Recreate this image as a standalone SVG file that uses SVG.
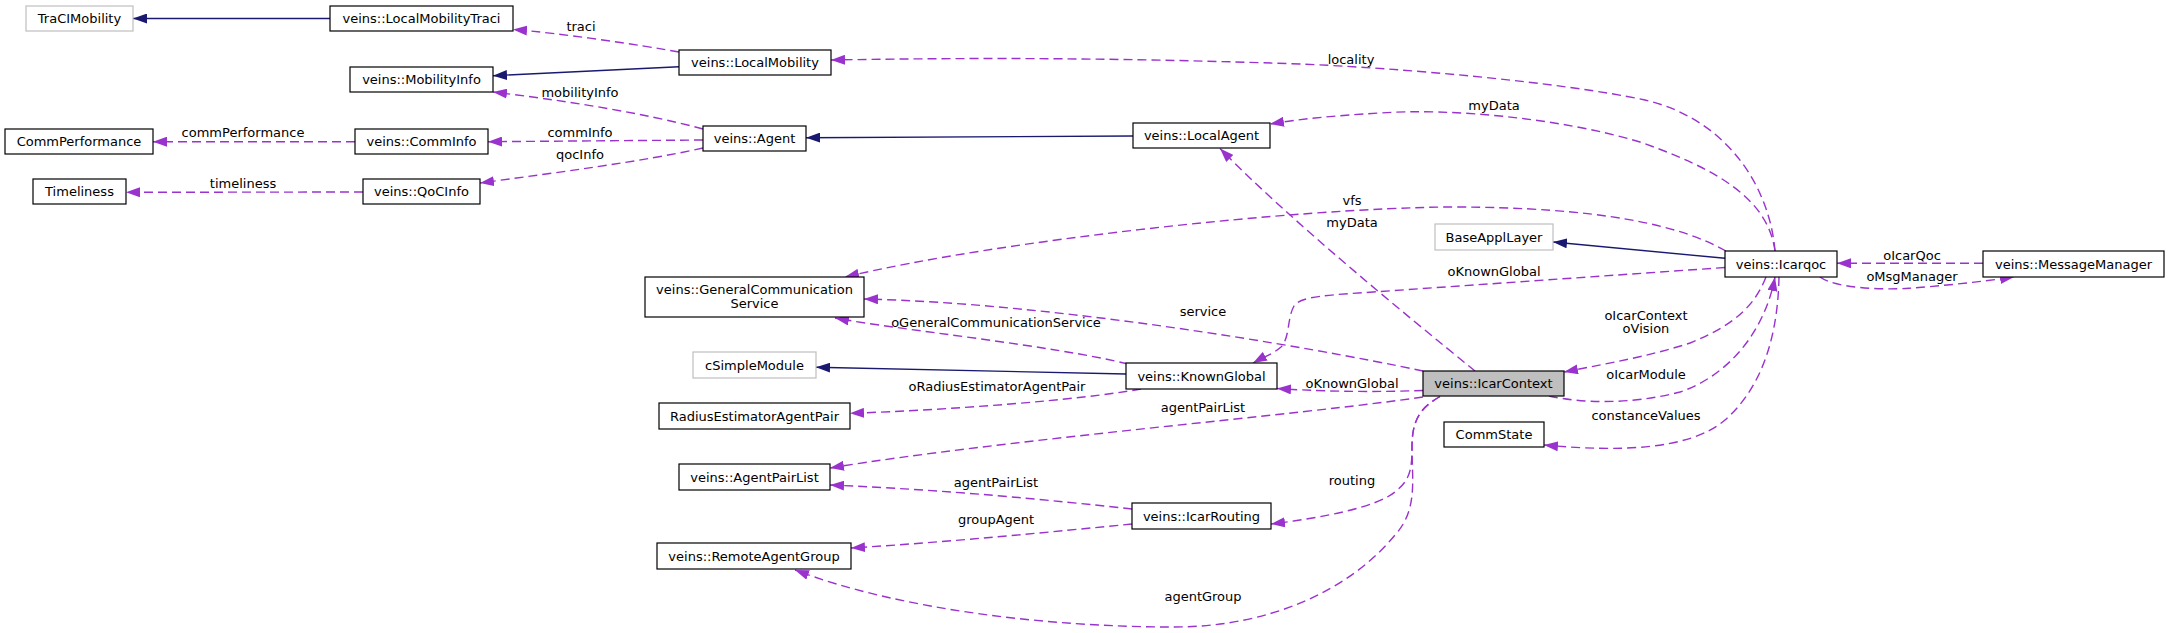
<svg xmlns="http://www.w3.org/2000/svg" width="2168" height="633" viewBox="0 0 2168 633">
<style>
text{font-family:"DejaVu Sans","Liberation Sans",sans-serif;font-size:13px;fill:#000}
.n text{text-anchor:middle}
.n rect{fill:#fff;stroke:#000;stroke-width:1.2}
.n rect.u{stroke:#bfbfbf}
.n rect.h{fill:#bfbfbf}
.e path{fill:none;stroke-width:1.4}
.e path.d{stroke:#9a32cd;stroke-dasharray:9,5;marker-end:url(#ap)}
.e path.s{stroke:#191970;marker-end:url(#an)}
.e text{text-anchor:middle}
</style>
<defs>
<marker id="ap" viewBox="0 0 14 10" refX="14" refY="5" markerWidth="14" markerHeight="10" markerUnits="userSpaceOnUse" orient="auto"><path d="M0,0 L14,5 L0,10 z" fill="#9a32cd"/></marker>
<marker id="an" viewBox="0 0 14 10" refX="14" refY="5" markerWidth="14" markerHeight="10" markerUnits="userSpaceOnUse" orient="auto"><path d="M0,0 L14,5 L0,10 z" fill="#191970"/></marker>
</defs>
<g id="connectors" class="e">
<path class="s" d="M330,18.5 L133,18.5"/>
<path class="s" d="M679,66.7 L493,75.7"/>
<path class="d" d="M679,52 C640,45 560,33 513,29.5"/>
<text x="581" y="31">traci</text>
<path class="d" d="M703,129 C640,112 560,100 493,92"/>
<text x="580" y="97">mobilityInfo</text>
<path class="d" d="M703,140 L488,141.7"/>
<text x="580" y="137">commInfo</text>
<path class="d" d="M703,148 C640,162 560,172 480,183"/>
<text x="580" y="159">qocInfo</text>
<path class="d" d="M355,141.7 L153,141.7"/>
<text x="243" y="137">commPerformance</text>
<path class="d" d="M363,192 L126,192.3"/>
<text x="243" y="188">timeliness</text>
<path class="s" d="M1133,136 L806,137.7"/>
<path class="d" d="M1775,251 C1770,190 1730,120 1645,100 C1560,82 1400,68 1300,64 C1100,57 950,58 831,60"/>
<text x="1351" y="64">locality</text>
<path class="d" d="M1775,251 C1768,200 1720,170 1640,142 C1560,118 1450,108 1380,113 C1330,116 1300,119 1270,124"/>
<text x="1494" y="109.5">myData</text>
<path class="d" d="M1726,251 C1680,225 1600,207 1450,207 C1300,208 1000,240 845,277"/>
<text x="1352" y="204.5">vfs</text>
<path class="s" d="M1725,258.3 L1553,242"/>
<path class="d" d="M1725,267.5 L1373,292 C1330,295 1300,296 1294,306 C1287,318 1290,338 1281,347 C1273,354 1262,358 1253,363"/>
<text x="1494" y="276">oKnownGlobal</text>
<path class="d" d="M1983,263.3 L1837,263.3"/>
<text x="1912" y="260">oIcarQoc</text>
<path class="d" d="M1820,277 C1835,288 1880,290 1909,288.3 C1940,286 1980,282 2014,277"/>
<text x="1912" y="281">oMsgManager</text>
<path class="d" d="M1766,277 C1755,305 1735,325 1690,343 C1650,356 1610,363 1564,372"/>
<text x="1646" y="319.5">oIcarContext</text>
<text x="1646" y="333">oVision</text>
<path class="d" d="M1549,396 C1580,403 1630,405 1680,392 C1730,375 1765,330 1775,277"/>
<text x="1646" y="378.5">oIcarModule</text>
<path class="d" d="M1779,277 C1778,330 1765,385 1725,420 C1690,450 1620,452 1544,445"/>
<text x="1646" y="419.5">constanceValues</text>
<path class="d" d="M1423,371 C1300,345 1050,303 864,299"/>
<text x="1203" y="316">service</text>
<path class="d" d="M1475,371 C1400,310 1290,220 1220,148.5"/>
<text x="1352" y="227">myData</text>
<path class="d" d="M1128,364 C1050,345 900,330 835,318"/>
<text x="996" y="327">oGeneralCommunicationService</text>
<path class="s" d="M1126,374 L816,367.3"/>
<path class="d" d="M1423,390.5 C1380,392 1330,392 1277,388.5"/>
<text x="1352" y="387.5">oKnownGlobal</text>
<path class="d" d="M1141,389 C1080,400 950,410 850,413.3"/>
<text x="997" y="391">oRadiusEstimatorAgentPair</text>
<path class="d" d="M1423,397 C1300,415 1000,440 830,468"/>
<text x="1203" y="411.5">agentPairList</text>
<path class="d" d="M1440,396.5 C1420,408 1412,420 1412,447 C1412,470 1410,480 1395,492 C1375,508 1320,518 1271,524"/>
<text x="1352" y="484.5">routing</text>
<path class="d" d="M1440,396.5 C1420,408 1412,420 1412,447 C1412,480 1418,510 1395,535 C1350,590 1270,627 1174,627 C1050,627 900,610 795,570"/>
<text x="1203" y="600.5">agentGroup</text>
<path class="d" d="M1132,509 C1050,500 950,490 830,485"/>
<text x="996" y="487">agentPairList</text>
<path class="d" d="M1132,524 C1050,532 950,542 851,548"/>
<text x="996" y="523.5">groupAgent</text>
</g>
<g id="TraCIMobility" class="n"><rect class="u" x="26" y="6" width="107" height="25"/><text x="79.5" y="23">TraCIMobility</text></g>
<g id="LocalMobilityTraci" class="n"><rect x="330" y="6" width="183" height="25"/><text x="421.5" y="23">veins::LocalMobilityTraci</text></g>
<g id="MobilityInfo" class="n"><rect x="350" y="67" width="143" height="25"/><text x="421.5" y="84">veins::MobilityInfo</text></g>
<g id="CommPerformance" class="n"><rect x="5" y="129" width="148" height="25"/><text x="79" y="146">CommPerformance</text></g>
<g id="CommInfo" class="n"><rect x="355" y="129" width="133" height="25"/><text x="421.5" y="146">veins::CommInfo</text></g>
<g id="Timeliness" class="n"><rect x="33" y="179" width="93" height="25"/><text x="79.5" y="196">Timeliness</text></g>
<g id="QoCInfo" class="n"><rect x="363" y="179" width="117" height="25"/><text x="421.5" y="196">veins::QoCInfo</text></g>
<g id="LocalMobility" class="n"><rect x="679" y="50" width="152" height="25"/><text x="755" y="67">veins::LocalMobility</text></g>
<g id="Agent" class="n"><rect x="703" y="126" width="103" height="25"/><text x="754.5" y="143">veins::Agent</text></g>
<g id="LocalAgent" class="n"><rect x="1133" y="123" width="137" height="25"/><text x="1201.5" y="140">veins::LocalAgent</text></g>
<g id="GeneralCommunicationService" class="n"><rect x="645" y="277" width="219" height="40"/><text x="754.5" y="293.5">veins::GeneralCommunication</text><text x="754.5" y="308">Service</text></g>
<g id="cSimpleModule" class="n"><rect class="u" x="693" y="352" width="123" height="26"/><text x="754.5" y="369.5">cSimpleModule</text></g>
<g id="KnownGlobal" class="n"><rect x="1126" y="363" width="151" height="26"/><text x="1201.5" y="380.5">veins::KnownGlobal</text></g>
<g id="RadiusEstimatorAgentPair" class="n"><rect x="659" y="403" width="191" height="26"/><text x="754.5" y="420.5">RadiusEstimatorAgentPair</text></g>
<g id="AgentPairList" class="n"><rect x="679" y="464" width="151" height="26"/><text x="754.5" y="481.5">veins::AgentPairList</text></g>
<g id="IcarRouting" class="n"><rect x="1132" y="503" width="139" height="26"/><text x="1201.5" y="520.5">veins::IcarRouting</text></g>
<g id="RemoteAgentGroup" class="n"><rect x="657" y="543" width="194" height="26"/><text x="754" y="560.5">veins::RemoteAgentGroup</text></g>
<g id="BaseApplLayer" class="n"><rect class="u" x="1435" y="224" width="118" height="26"/><text x="1494" y="241.5">BaseApplLayer</text></g>
<g id="Icarqoc" class="n"><rect x="1725" y="251" width="112" height="26"/><text x="1781" y="268.5">veins::Icarqoc</text></g>
<g id="MessageManager" class="n"><rect x="1983" y="251" width="181" height="26"/><text x="2073.5" y="268.5">veins::MessageManager</text></g>
<g id="IcarContext" class="n"><rect class="h" x="1423" y="371" width="141" height="25"/><text x="1493.5" y="388">veins::IcarContext</text></g>
<g id="CommState" class="n"><rect x="1444" y="422" width="100" height="25"/><text x="1494" y="439">CommState</text></g>
</svg>
